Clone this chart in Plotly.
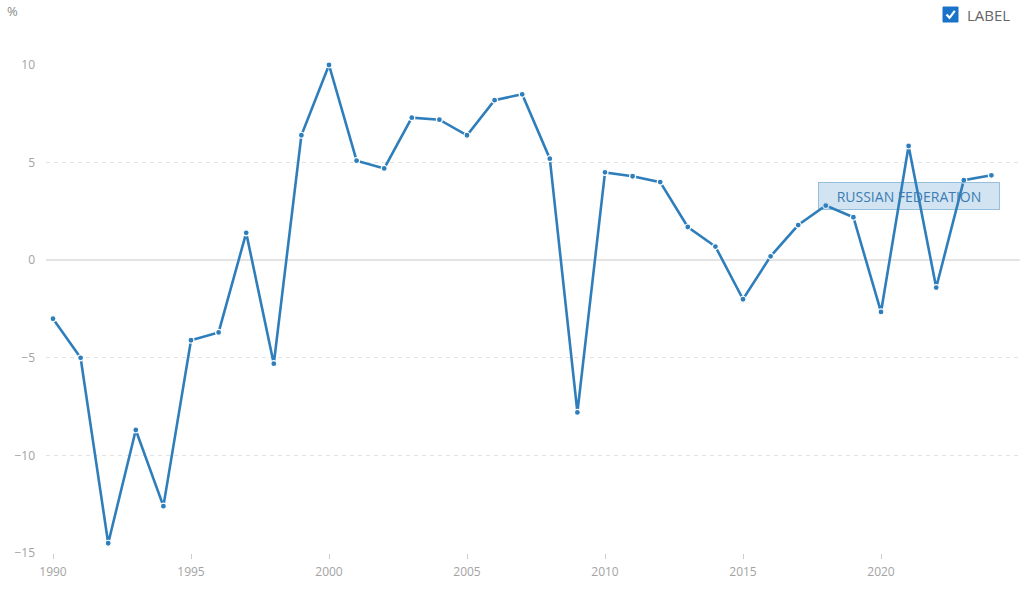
import plotly.graph_objects as go

years = list(range(1990, 2025))
growth = [-3.0, -5.0, -14.5, -8.7, -12.6, -4.1, -3.7, 1.4, -5.3, 6.4,
          10.0, 5.1, 4.7, 7.3, 7.2, 6.4, 8.2, 8.5, 5.2, -7.8,
          4.5, 4.3, 4.0, 1.7, 0.7, -2.0, 0.2, 1.8, 2.8, 2.2,
          -2.65, 5.85, -1.4, 4.1, 4.35]
x_ticks = [1990, 1995, 2000, 2005, 2010, 2015, 2020]
y_ticks = [-15, -10, -5, 0, 5, 10]
series_name = "RUSSIAN FEDERATION"
legend_label = "LABEL"
unit_label = "%"

W, H = 1020, 600
L, R, T, B = 46, 0, 65, 47
PW, PH = W - L - R, H - T - B
x0_year, px_per_year = 1990, 27.6
x_range = [x0_year - 7 / px_per_year, x0_year + (W - 53) / px_per_year]


def px(x):
    return (x - L) / PW


def py(y):
    return (H - B - y) / PH


line_color = "#2f7ebc"
tick_color = "#a3a3a3"

fig = go.Figure()
fig.add_trace(go.Scatter(
    x=years, y=growth, mode="lines+markers", name=series_name,
    line=dict(color=line_color, width=2.6),
    marker=dict(size=6, color=line_color, line=dict(color="white", width=1.2)),
    cliponaxis=False, showlegend=False, hoverinfo="x+y",
))

shapes = [
    dict(type="rect", xref="paper", yref="paper",
         x0=px(943), x1=px(958), y0=py(22), y1=py(7),
         fillcolor="#1a73c8", line=dict(color="#1a73c8", width=1), layer="above"),
    dict(type="path", xref="paper", yref="paper",
         path=f"M {px(946.5)},{py(14.5)} L {px(949.5)},{py(17.8)} L {px(954.8)},{py(10.8)}",
         line=dict(color="white", width=2.2), layer="above"),
]

annotations = [
    dict(text=unit_label, xref="paper", yref="paper", x=px(5), y=py(0),
         xanchor="left", yanchor="top", showarrow=False,
         font=dict(family="Open Sans", size=13, color="#8a8a8a")),
    dict(text=legend_label, xref="paper", yref="paper", x=px(965), y=py(14.5),
         xanchor="left", yanchor="middle", showarrow=False,
         font=dict(family="Open Sans", size=15, color="#666666")),
    dict(text=series_name, xref="paper", yref="paper", x=px(909), y=py(196),
         xanchor="center", yanchor="middle", showarrow=False,
         font=dict(family="Open Sans", size=14, color="#3c7cb4"),
         bgcolor="rgba(49,130,189,0.22)", bordercolor="rgba(49,130,189,0.45)",
         borderwidth=1, borderpad=4, width=172, height=18),
]

fig.update_layout(
    width=W, height=H,
    margin=dict(l=L, r=R, t=T, b=B),
    paper_bgcolor="white", plot_bgcolor="white",
    font=dict(family="Open Sans", size=12, color=tick_color),
    shapes=shapes, annotations=annotations,
    xaxis=dict(range=x_range, tickvals=x_ticks, showgrid=False, zeroline=False,
               showline=False, ticks="outside", ticklen=5, tickcolor="#cccccc",
               tickfont=dict(size=12, color=tick_color), ticklabelstandoff=3,
               fixedrange=True),
    yaxis=dict(range=[-15, 10], tickvals=y_ticks, showgrid=True,
               gridcolor="#e2e2e2", griddash="4px,4px", gridwidth=1,
               zeroline=True, zerolinecolor="#e4e4e4", zerolinewidth=2,
               showline=False, ticks="", ticklabelstandoff=10,
               tickfont=dict(size=12, color=tick_color), fixedrange=True),
)

fig.write_html("out.html", config={"displayModeBar": False})
